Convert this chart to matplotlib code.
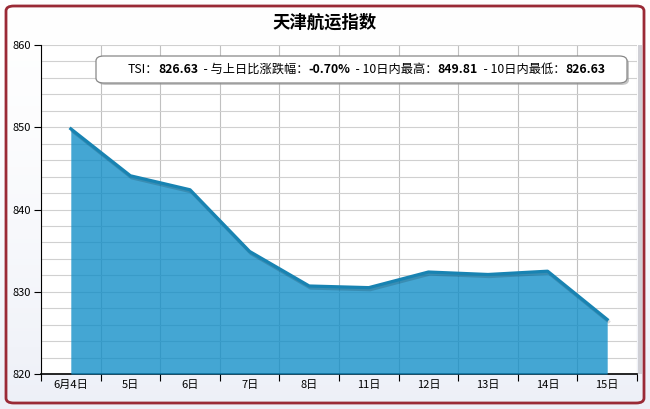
import numpy as np
import matplotlib.pyplot as plt
from matplotlib.patches import FancyBboxPatch, Rectangle
import matplotlib.patheffects as pe

plt.rcParams['font.family'] = ['Noto Sans CJK SC', 'DejaVu Sans']

# 数据
days = ['6月4日', '5日', '6日', '7日', '8日', '11日', '12日', '13日', '14日', '15日']
tsi = [849.81, 844.1, 842.4, 834.9, 830.7, 830.5, 832.4, 832.1, 832.5, 826.63]
title = '天津航运指数'
info_parts = [('TSI：', 'normal'), ('826.63', 'bold'),
              ('  - 与上日比涨跌幅：', 'normal'), ('-0.70%', 'bold'),
              ('  - 10日内最高：', 'normal'), ('849.81', 'bold'),
              ('  - 10日内最低：', 'normal'), ('826.63', 'bold')]

W, H = 650, 409
fig = plt.figure(figsize=(W / 100, H / 100), dpi=100)

# 背景渐变
bg = fig.add_axes([0, 0, 1, 1], zorder=0)
grad = np.linspace(0, 1, 256).reshape(-1, 1)
top = np.array([1.0, 1.0, 1.0])
bot = np.array([0.93, 0.94, 0.97])
img = top + (bot - top) * grad[..., None] ** 1.5
bg.imshow(img, aspect='auto', extent=[0, 1, 0, 1], origin='upper')
bg.set_xlim(0, 1)
bg.set_ylim(0, 1)
bg.axis('off')

# 绘图区
x0, x1, ytop, ybot = 41, 637, 45, 374
# 右侧阴影
bg.add_patch(Rectangle(((x1 + 1) / W, (H - ybot) / H), 4 / W, (ybot - ytop) / H,
                       transform=bg.transAxes, fc='#d0d0d6', ec='none', zorder=2))

ax = fig.add_axes([x0 / W, (H - ybot) / H, (x1 - x0) / W, (ybot - ytop) / H], zorder=1)
ax.set_facecolor('white')

x = np.arange(len(days))
ax.fill_between(x, tsi, 820, color='#0f8dc7', alpha=0.78, lw=0, zorder=3)
ax.plot(x, tsi, color='#1883b2', lw=2.3, zorder=4, solid_joinstyle='round',
        path_effects=[pe.SimpleLineShadow(offset=(1, -1.5), shadow_color='k', alpha=0.15),
                      pe.Normal()])

ax.set_xlim(-0.5, len(days) - 0.5)
ax.set_ylim(820, 860)
ax.set_yticks([820, 830, 840, 850, 860])
ax.set_yticks(np.arange(820, 861, 2), minor=True)
ax.set_xticks(np.arange(-0.5, len(days), 1))
ax.set_xticklabels([])
ax.set_xticks(x, minor=True)
ax.set_xticklabels(days, minor=True, fontsize=8)
ax.tick_params(axis='x', which='minor', length=0, pad=4)
ax.tick_params(axis='x', which='major', length=5, direction='out', color='black')
ax.tick_params(axis='y', which='major', labelsize=8, length=5, direction='out', pad=2)
ax.tick_params(axis='y', which='minor', length=0)
ax.grid(True, axis='y', which='both', color='#d0d0d0', lw=0.8, zorder=0)
ax.grid(True, axis='x', which='major', color='#c0c0c0', lw=0.8, zorder=0)
ax.set_axisbelow(True)
for s in ['top', 'right']:
    ax.spines[s].set_visible(False)
ax.spines['left'].set_color('black')
ax.spines['bottom'].set_color('black')
ax.spines['bottom'].set_linewidth(1.2)

# 前景层：外框、信息框
ov = fig.add_axes([0, 0, 1, 1], zorder=2)
ov.set_xlim(0, 1)
ov.set_ylim(0, 1)
ov.axis('off')
ov.add_patch(FancyBboxPatch((6 / W, 6 / H), (W - 12) / W, (H - 12) / H,
                            boxstyle='round,pad=0,rounding_size=0.012',
                            transform=ov.transAxes, fc='none', ec='#9a2a36', lw=2))

bx0, bx1, by0, by1 = 96, 627, 56, 83
ov.add_patch(FancyBboxPatch(((bx0 + 2) / W, (H - by1 - 2) / H), (bx1 - bx0) / W, (by1 - by0) / H,
                            boxstyle='round,pad=0,rounding_size=0.012', transform=ov.transAxes,
                            fc='#a0a0a0', ec='none', alpha=0.6))
ov.add_patch(FancyBboxPatch((bx0 / W, (H - by1) / H), (bx1 - bx0) / W, (by1 - by0) / H,
                            boxstyle='round,pad=0,rounding_size=0.012', transform=ov.transAxes,
                            fc='white', ec='#888888', lw=0.9))

ov.text(0.5, 1 - 23 / H, title, ha='center', va='center', fontsize=12.5,
        fontweight='bold', transform=ov.transAxes)

renderer = fig.canvas.get_renderer()
texts = []
for s, w in info_parts:
    t = ov.text(0, 1 - 69.5 / H, s, ha='left', va='center', fontsize=8.8,
                fontweight=w, transform=ov.transAxes)
    texts.append(t)
widths = [t.get_window_extent(renderer).width for t in texts]
total = sum(widths)
start = (125 + 608) / 2 - total / 2
for t, wd in zip(texts, widths):
    t.set_x(start / W)
    start += wd

fig.savefig('out.png', dpi=100)
